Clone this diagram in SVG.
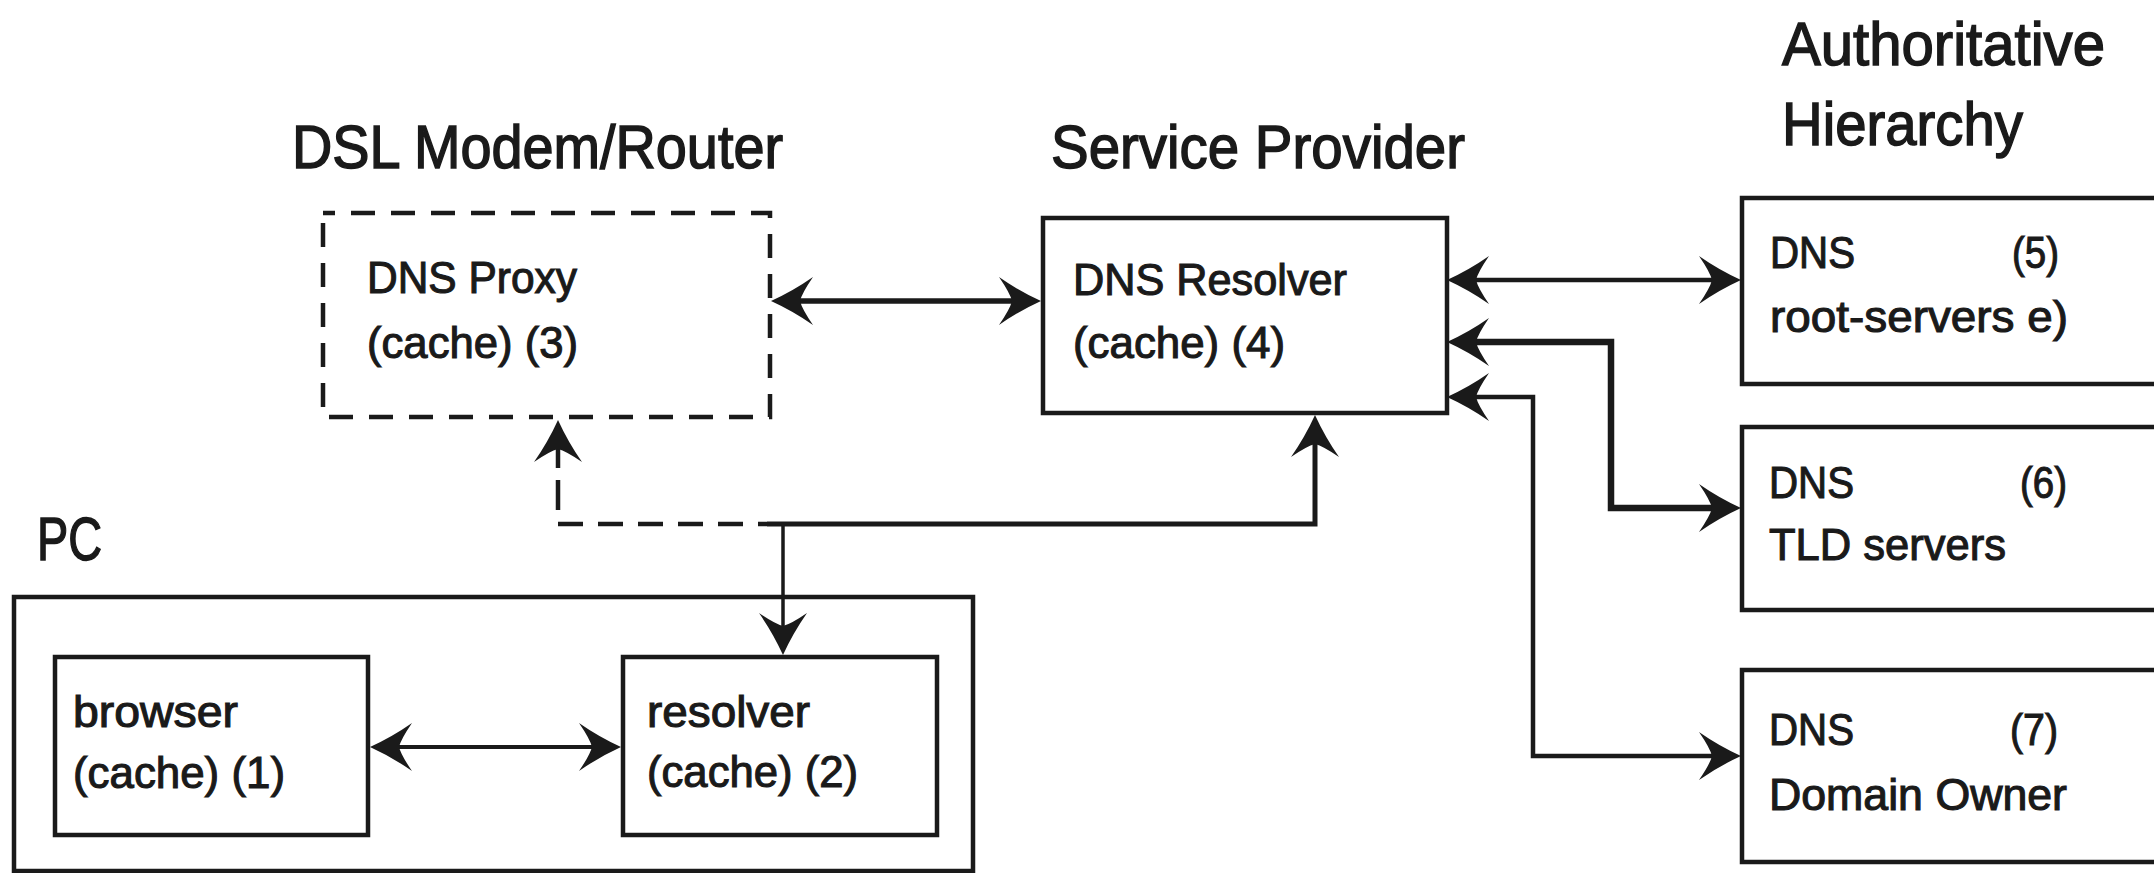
<svg xmlns="http://www.w3.org/2000/svg" width="2154" height="873" viewBox="0 0 2154 873">
  <style>
    .box { fill: #ffffff; stroke: #1a1a1a; stroke-width: 4.5; }
    .dash { fill: none; stroke: #1a1a1a; stroke-width: 4.5; stroke-dasharray: 24 16; }
    .line { fill: none; stroke: #1a1a1a; stroke-width: 4.5; stroke-linejoin: miter; }
    .title { font-family: "Liberation Sans", Arial, sans-serif; font-size: 62px; fill: #1a1a1a; stroke: #1a1a1a; stroke-width: 1.5; }
    .label { font-family: "Liberation Sans", Arial, sans-serif; font-size: 44px; fill: #1a1a1a; stroke: #1a1a1a; stroke-width: 1.1; }
  </style>
  <defs>
    <marker id="head" markerUnits="userSpaceOnUse" markerWidth="120" markerHeight="120"
            refX="-8" refY="0" orient="auto-start-reverse" overflow="visible" viewBox="-60 -60 120 120">
      <path d="M0,0 Q-22,-10 -42,-24 Q-31,-8 -29,0 Q-31,8 -42,24 Q-22,10 0,0 Z" fill="#1a1a1a"/>
    </marker>
  </defs>

  <rect width="2154" height="873" fill="#ffffff"/>

  <!-- group headings -->
  <text class="title" x="292" y="168" textLength="491" lengthAdjust="spacingAndGlyphs">DSL Modem/Router</text>
  <text class="title" x="1051" y="168" textLength="414" lengthAdjust="spacingAndGlyphs">Service Provider</text>
  <text class="title" x="1782" y="65" textLength="323" lengthAdjust="spacingAndGlyphs">Authoritative</text>
  <text class="title" x="1782" y="145" textLength="241" lengthAdjust="spacingAndGlyphs">Hierarchy</text>
  <text class="title" x="37" y="560" textLength="65" lengthAdjust="spacingAndGlyphs">PC</text>

  <!-- PC container -->
  <g id="pc">
    <rect class="box" x="14" y="597" width="959" height="274"/>
  </g>

  <g id="dns-proxy">
    <path class="dash" d="M323,213 H770 V417 H323 Z" stroke-dashoffset="12"/>
    <text class="label" x="367" y="293" textLength="210" lengthAdjust="spacingAndGlyphs">DNS Proxy</text>
    <text class="label" x="367" y="358" textLength="211" lengthAdjust="spacingAndGlyphs">(cache) (3)</text>
  </g>

  <g id="dns-resolver">
    <rect class="box" x="1043" y="218" width="404" height="195"/>
    <text class="label" x="1073" y="295" textLength="274" lengthAdjust="spacingAndGlyphs">DNS Resolver</text>
    <text class="label" x="1073" y="358" textLength="212" lengthAdjust="spacingAndGlyphs">(cache) (4)</text>
  </g>

  <g id="root-servers">
    <rect class="box" x="1742" y="198" width="500" height="186"/>
    <text class="label" x="1770" y="268" textLength="85" lengthAdjust="spacingAndGlyphs">DNS</text>
    <text class="label" x="2012" y="268" textLength="47" lengthAdjust="spacingAndGlyphs">(5)</text>
    <text class="label" x="1770" y="332" textLength="298" lengthAdjust="spacingAndGlyphs">root-servers e)</text>
  </g>

  <g id="tld-servers">
    <rect class="box" x="1742" y="427" width="500" height="183"/>
    <text class="label" x="1769" y="498" textLength="85" lengthAdjust="spacingAndGlyphs">DNS</text>
    <text class="label" x="2020" y="498" textLength="47" lengthAdjust="spacingAndGlyphs">(6)</text>
    <text class="label" x="1769" y="560" textLength="237" lengthAdjust="spacingAndGlyphs">TLD servers</text>
  </g>

  <g id="domain-owner">
    <rect class="box" x="1742" y="670" width="500" height="192"/>
    <text class="label" x="1769" y="745" textLength="85" lengthAdjust="spacingAndGlyphs">DNS</text>
    <text class="label" x="2010" y="745" textLength="48" lengthAdjust="spacingAndGlyphs">(7)</text>
    <text class="label" x="1769" y="810" textLength="298" lengthAdjust="spacingAndGlyphs">Domain Owner</text>
  </g>

  <g id="browser">
    <rect class="box" x="55" y="657" width="313" height="178"/>
    <text class="label" x="73" y="727" textLength="165" lengthAdjust="spacingAndGlyphs">browser</text>
    <text class="label" x="73" y="788" textLength="212" lengthAdjust="spacingAndGlyphs">(cache) (1)</text>
  </g>

  <g id="pc-resolver">
    <rect class="box" x="623" y="657" width="314" height="178"/>
    <text class="label" x="647" y="727" textLength="163" lengthAdjust="spacingAndGlyphs">resolver</text>
    <text class="label" x="647" y="787" textLength="211" lengthAdjust="spacingAndGlyphs">(cache) (2)</text>
  </g>

  <!-- connectors -->
  <g id="connectors">
    <path class="line" style="stroke-width:5.5" d="M779,301 L1033,301" marker-start="url(#head)" marker-end="url(#head)"/>
    <path class="line" d="M1455,280 L1733,280" marker-start="url(#head)" marker-end="url(#head)"/>
    <path class="line" style="stroke-width:6.5" d="M1455,342 L1611,342 L1611,508 L1733,508" marker-start="url(#head)" marker-end="url(#head)"/>
    <path class="line" d="M1455,397 L1533,397 L1533,756 L1733,756" marker-start="url(#head)" marker-end="url(#head)"/>
    <path class="line" style="stroke-width:5" d="M767,524 L1315,524 L1315,423" marker-end="url(#head)"/>
    <path class="line" style="stroke-dasharray:25 15" d="M558,524 L767,524"/>
    <path class="line" style="stroke-dasharray:0 12 30 12 200" d="M558,522 L558,428" marker-end="url(#head)"/>
    <path class="line" style="stroke-width:3.5" d="M783,524 L783,647" marker-end="url(#head)"/>
    <path class="line" style="stroke-width:4" d="M378,747 L613,747" marker-start="url(#head)" marker-end="url(#head)"/>
  </g>
</svg>
